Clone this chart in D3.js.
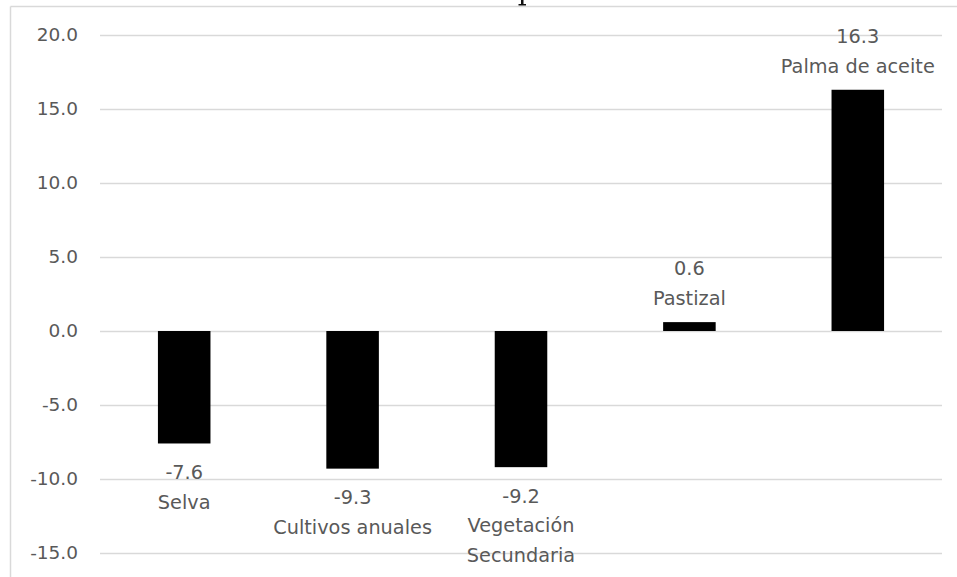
<!DOCTYPE html>
<html>
<head>
<meta charset="utf-8">
<script src="https://cdn.jsdelivr.net/npm/d3@7"></script>
<style>
  html, body { margin: 0; padding: 0; background: #fff; }
  svg { display: block; }
  text { font-family: "DejaVu Sans", "Open Sans", sans-serif; }
</style>
</head>
<body>
<svg id="chart" width="957" height="577"></svg>
<script>
// Cambio de superficie por cobertura (puntos porcentuales)
const categories = ["Selva", "Cultivos anuales", "Vegetación Secundaria", "Pastizal", "Palma de aceite"];
const categoryLines = [["Selva"], ["Cultivos anuales"], ["Vegetación", "Secundaria"], ["Pastizal"], ["Palma de aceite"]];
const values = [-7.6, -9.3, -9.2, 0.6, 16.3];
const yTicks = [-15, -10, -5, 0, 5, 10, 15, 20];

const svg = d3.select("#chart");
const W = 957, H = 577;
const plot = { left: 100, right: 942, top: 35, bottom: 553 };
const textColor = "#595959";
const gridColor = "#d9d9d9";
const tickFontSize = 18.5;
const labelFontSize = 19.3;

// chart frame (top and left edges visible)
svg.append("line").attr("x1", 10.5).attr("x2", W).attr("y1", 6.5).attr("y2", 6.5)
  .attr("stroke", gridColor).attr("stroke-width", 1.5);
svg.append("line").attr("x1", 10.5).attr("x2", 10.5).attr("y1", 6.5).attr("y2", H)
  .attr("stroke", gridColor).attr("stroke-width", 1.5);

// tail of the heading glyph above the frame
svg.append("path")
  .attr("d", "M521,0 H523.5 V4 H526 V5.5 H518.5 V4 H521 Z")
  .attr("fill", "#111");

const x = d3.scaleBand().domain(categories)
  .range([plot.left, plot.right]).paddingInner(0.688).paddingOuter(0.344);
const y = d3.scaleLinear().domain([-15, 20]).range([plot.bottom, plot.top]);

// horizontal gridlines with value labels
const yAxis = d3.axisLeft(y).tickValues(yTicks).tickFormat(d => d.toFixed(1))
  .tickSize(-(plot.right - plot.left)).tickPadding(22);
const gy = svg.append("g").attr("transform", `translate(${plot.left},0)`).call(yAxis);
gy.select(".domain").remove();
gy.selectAll(".tick line").attr("stroke", gridColor).attr("stroke-width", 1.5);
gy.selectAll(".tick text").attr("fill", textColor).attr("font-size", tickFontSize)
  .attr("font-family", "'DejaVu Sans', 'Open Sans', sans-serif");

// bars
svg.append("g").selectAll("rect").data(values).join("rect")
  .attr("x", (d, i) => x(categories[i]))
  .attr("width", x.bandwidth())
  .attr("y", d => y(Math.max(0, d)))
  .attr("height", d => Math.abs(y(d) - y(0)))
  .attr("fill", "#000");

// value + category labels
const lineH = 29.5;
const labels = svg.append("g").attr("fill", textColor).attr("font-size", labelFontSize)
  .attr("text-anchor", "middle");
values.forEach((v, i) => {
  const cx = x(categories[i]) + x.bandwidth() / 2;
  const lines = [v.toFixed(1), ...categoryLines[i]];
  const firstCenter = v < 0
    ? y(v) + 29
    : y(v) - 24 - lineH * (lines.length - 1);
  lines.forEach((t, k) => {
    labels.append("text").attr("x", cx).attr("y", firstCenter + k * lineH)
      .attr("dy", "0.35em").text(t);
  });
});
</script>
</body>
</html>
